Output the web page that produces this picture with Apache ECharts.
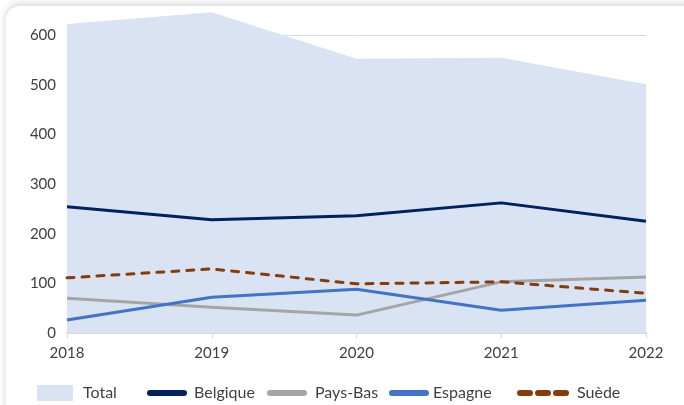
<!DOCTYPE html>
<html>
<head>
<meta charset="utf-8">
<script src="https://cdn.jsdelivr.net/npm/echarts@6/dist/echarts.min.js"></script>
<style>
  html, body { margin: 0; padding: 0; background: #fff; }
  .card {
    position: absolute; left: 6px; top: 6px; width: 700px; height: 420px;
    border-radius: 14px; box-shadow: 0 -2px 8px rgba(0, 0, 0, 0.18); background: #fff;
  }
  #main { position: absolute; left: 0; top: 0; width: 684px; height: 405px; }
</style>
</head>
<body>
<div class="card"></div>
<div id="main"></div>
<script>
// annees et valeurs
const years = ['2018', '2019', '2020', '2021', '2022'];
const total = [622, 646, 552, 554, 501];
const belgique = [254, 228, 236, 262, 225];
const paysBas = [70, 52, 36, 103, 113];
const espagne = [26, 72, 88, 46, 66];
const suede = [111, 129, 99, 103, 80];

const labelColor = '#404040';
const fontFamily = 'Lato, "Open Sans", sans-serif';

// icones de legende : trait plein 40x16, pointille 52x16
function pill (x0, x1) {
  return 'M' + (x0 + 3) + ',5L' + (x1 - 3) + ',5A3,3,0,0,1,' + (x1 - 3) + ',11L' + (x0 + 3) +
    ',11A3,3,0,0,1,' + (x0 + 3) + ',5Z';
}
const solidIcon = 'path://M0,0M40,16' + pill(0, 40);
const dashIcon = 'path://M0,0M52,16' + pill(0, 16) + pill(18, 34) + pill(36, 52);

function legendAt (left, name, icon, width, gap) {
  return {
    left: left,
    top: 385,
    padding: 0,
    itemWidth: width,
    itemHeight: 16,
    textStyle: { color: labelColor, fontSize: 16, fontFamily: fontFamily, padding: [0, 0, 0, gap] },
    data: [{ name: name, icon: icon }]
  };
}

function lineSerie (name, data, color, type) {
  return {
    name: name,
    type: 'line',
    data: data,
    symbol: 'none',
    z: 3,
    lineStyle: { color: color, width: 3, type: type || 'solid', cap: type ? 'round' : 'butt' },
    itemStyle: { color: color }
  };
}

const myChart = echarts.init(document.getElementById('main'), null, { renderer: 'canvas' });
myChart.setOption({
  animation: false,
  textStyle: { fontFamily: fontFamily },
  grid: { left: 67, right: 38, top: 35, bottom: 72 },
  legend: [
    legendAt(37, 'Total', 'rect', 36, 5),
    legendAt(147, 'Belgique', solidIcon, 40, 2),
    legendAt(267, 'Pays-Bas', solidIcon, 40, 3),
    legendAt(389, 'Espagne', solidIcon, 40, -1),
    legendAt(517, 'Suède', dashIcon, 52, 3)
  ],
  xAxis: {
    type: 'category',
    boundaryGap: false,
    data: years,
    axisLine: { lineStyle: { color: '#d9d9d9', width: 2 } },
    axisTick: { show: true, alignWithLabel: true, length: 5, lineStyle: { color: '#d9d9d9', width: 1 } },
    axisLabel: { color: labelColor, fontSize: 15, margin: 13 }
  },
  yAxis: {
    type: 'value',
    min: 0,
    max: 600,
    interval: 100,
    axisLine: { show: false },
    axisTick: { show: false },
    splitLine: { lineStyle: { color: '#d9d9d9' } },
    axisLabel: { color: labelColor, fontSize: 15, margin: 11 }
  },
  series: [
    {
      name: 'Total',
      type: 'line',
      data: total,
      symbol: 'none',
      clip: false,
      z: 1,
      lineStyle: { width: 0, color: '#dae3f3' },
      itemStyle: { color: '#dae3f3' },
      areaStyle: { color: '#dae3f3', opacity: 1 }
    },
    lineSerie('Belgique', belgique, '#002060'),
    lineSerie('Pays-Bas', paysBas, '#a5a5a5'),
    lineSerie('Espagne', espagne, '#4472c4'),
    lineSerie('Suède', suede, '#843c0c', [7, 8])
  ]
});
</script>
</body>
</html>
